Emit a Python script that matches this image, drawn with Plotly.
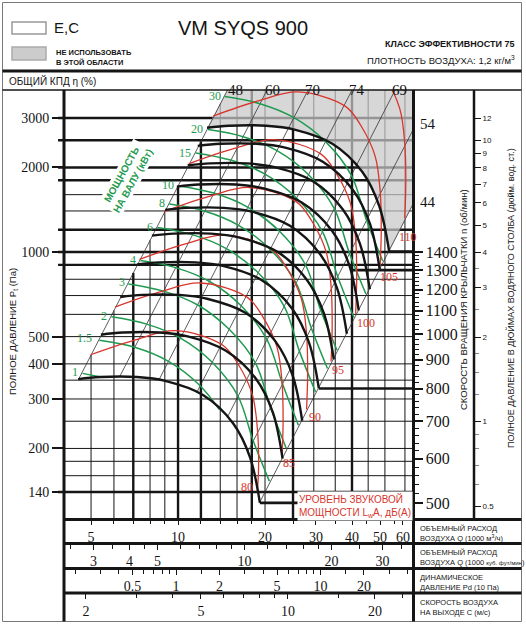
import math
import plotly.graph_objects as go

W, H = 526, 624

# fan curves (black), one per impeller speed, Q in 1000 m3/h, Pt in Pa
rpm = [500, 600, 700, 800, 900, 1000, 1100, 1200, 1300, 1400]
black_q = [
    [4.51, 5.37, 7.21, 9.02, 12.2, 15.5, 17.75, 19.2],
    [5.41, 6.44, 8.65, 10.8, 14.6, 18.6, 21.3, 23.0],
    [6.31, 7.52, 10.1, 12.6, 17.1, 21.7, 24.9, 26.9],
    [7.22, 8.59, 11.5, 14.4, 19.5, 24.8, 28.4, 30.7],
    [8.12, 9.67, 13.0, 16.2, 22.0, 27.9, 32.0, 34.6],
    [9.02, 10.7, 14.4, 18.0, 24.4, 31.0, 35.5, 38.4],
    [9.92, 11.8, 15.9, 19.8, 26.8, 34.1, 39.1, 42.2],
    [10.8, 12.9, 17.3, 21.6, 29.3, 37.2, 42.6, 46.1],
    [11.7, 14.0, 18.7, 23.5, 31.7, 40.3, 46.2, 49.9],
    [12.6, 15.0, 20.2, 25.3, 34.2, 43.4, 49.7, 53.8],
]
black_p = [
    [353, 359, 359, 348, 310, 246, 186, 128],
    [508, 517, 517, 501, 446, 354, 268, 184],
    [692, 704, 704, 682, 608, 482, 365, 251],
    [904, 919, 919, 891, 794, 630, 476, 328],
    [1144, 1163, 1163, 1128, 1004, 797, 603, 415],
    [1412, 1436, 1436, 1392, 1240, 984, 744, 512],
    [1709, 1738, 1738, 1684, 1500, 1191, 900, 620],
    [2033, 2068, 2068, 2004, 1786, 1417, 1071, 737],
    [2386, 2427, 2427, 2352, 2096, 1663, 1257, 865],
    [2768, 2815, 2815, 2728, 2430, 1929, 1458, 1004],
]

# shaft power lines (green), kW
kw = ["1", "1.5", "2", "3", "4", "6", "8", "10", "15", "20", "30"]
green_q = [
    [4.67, 5.4],
    [5.34, 7.08, 9.27, 11.9, 13.9],
    [5.88, 7.79, 10.2, 13.1, 16.1, 18.2, 20.7],
    [6.73, 8.91, 11.7, 15.0, 18.5, 20.9, 23.7],
    [7.41, 9.81, 12.9, 16.5, 20.3, 23.0, 26.1],
    [8.48, 11.2, 14.7, 18.9, 23.3, 26.3, 29.9],
    [9.33, 12.4, 16.2, 20.8, 25.6, 28.9, 32.9],
    [10.1, 13.3, 17.4, 22.4, 27.6, 31.1, 35.5],
    [11.5, 15.2, 20.0, 25.7, 31.6, 35.7, 40.6],
    [12.7, 16.8, 22.0, 28.3, 34.7, 39.2, 44.7],
    [14.5, 19.2, 25.2, 32.4, 39.8, 44.9, 51.1],
]
green_p = [
    [370, 359],
    [485, 458, 408, 335, 275],
    [588, 554, 494, 406, 308, 213, 153],
    [770, 726, 648, 532, 404, 280, 200],
    [933, 880, 784, 645, 489, 339, 242],
    [1223, 1153, 1028, 845, 641, 444, 318],
    [1481, 1397, 1245, 1024, 777, 538, 385],
    [1719, 1621, 1445, 1188, 901, 624, 447],
    [2252, 2124, 1893, 1556, 1181, 817, 585],
    [2728, 2573, 2294, 1885, 1431, 990, 709],
    [3575, 3371, 3006, 2471, 1875, 1298, 929],
]

# sound power level lines (red), dB(A)
sound_db = ["80", "85", "90", "95", "100", "105", "110"]
red_q = [
    [4.98, 7.12, 9.80, 14.25, 16.19, 18.09, 18.83, 19.0, 18.8],
    [6.05, 8.66, 11.92, 17.33, 19.68, 22.0, 22.9, 23.1, 22.9],
    [7.36, 10.53, 14.49, 21.07, 23.93, 26.75, 27.85, 28.09, 27.85],
    [8.95, 12.81, 17.63, 25.63, 29.10, 32.53, 33.86, 34.16, 33.86],
    [10.88, 15.57, 21.43, 31.16, 35.38, 39.56, 41.17, 41.53, 41.17],
    [13.23, 18.93, 26.06, 37.88, 43.02, 48.09, 50.06, 50.50, 50.06],
    [16.09, 23.03, 31.70, 46.08, 52.33, 58.50, 60.89, 61.42, 60.89],
]
red_p = [
    [431, 487, 525, 467, 397, 310, 233, 170, 140],
    [637, 721, 776, 691, 587, 459, 345, 252, 186],
    [942, 1066, 1148, 1022, 868, 679, 510, 373, 275],
    [1393, 1577, 1697, 1511, 1284, 1004, 755, 551, 408],
    [2060, 2332, 2510, 2235, 1898, 1484, 1116, 815, 603],
    [3047, 3449, 3712, 3305, 2808, 2195, 1650, 1205, 892],
    [4504, 5097, 5486, 4885, 4150, 3245, 2439, 1782, 1319],
]
sound_lbl_q = [17.3, 24.3, 29.8, 35.9, 44.8, 53.8, 62.6]
sound_lbl_p = [146, 177, 259, 380, 557, 817, 1134]

# total efficiency lines (thin diagonals), %
eff = ["48", "60", "70", "74", "69", "54", "44"]
eff_q = [[4.53, 16.2], [6.27, 22.2], [8.59, 30.8], [11.6, 43.7], [14.8, 61.6], [17.4, 70], [19.2, 70]]
eff_p = [[353, 4500], [359, 4500], [351, 4500], [316, 4500], [258, 4500], [194, 3151], [129, 1715]]
eff_top_q = [15.75, 21.15, 29.3, 41.6, 58.6]
eff_side_p = [2854, 1506]

kw_lbl_q = [4.40, 4.73, 5.55, 6.39, 7.01, 8.0, 8.78, 9.26, 10.57, 11.61, 13.43]
kw_lbl_p = [375, 494, 592, 784, 937, 1230, 1491, 1727, 2257, 2732, 3597]

# "do not use" zone outline (closed against the 1400 rpm curve)
gray_q = [12.6, 16.2, 70, 70, 53.8]
gray_p = [2768, 4500, 4500, 1715, 1004]

# grid and scales
grid_p = [3000, 2500, 2000, 1800, 1600, 1400, 1200, 1000, 900, 800, 700, 600,
          500, 400, 350, 300, 250, 200, 180, 160, 140]
grid_p_bold = [3000, 2500, 2000, 1800, 1200, 1000, 900, 140]
grid_q = [5, 6, 7, 8, 9, 10, 12, 14, 16, 18, 20, 25, 29.5, 35, 40, 45.5, 52, 61]
grid_q_bold = [7, 10, 12, 18, 25, 40]
speed_line_q = [19.2, 30.7, 40, 53.8]
speed_line_p = [128, 327, 862, 1004]

p_ticks = [140, 200, 300, 400, 500, 1000, 2000, 3000]
rpm_ticks = [500, 600, 700, 800, 900, 1000, 1100, 1200, 1300, 1400]
rpm_minor = [v for v in range(500, 1401, 20) if v % 100]
inch_ticks = [0.5, 1, 2, 3, 4, 5, 6, 7, 8, 9, 10, 12]
inch_minor = [0.6, 0.7, 0.8, 0.9, 1.25, 1.5, 1.75, 2.5, 3.5]
q_ticks = [5, 10, 20, 30, 40, 50, 60]
q_minor = [6, 7, 8, 9, 12, 14, 16, 18, 25, 35, 45, 56]
cfm_ticks = [3, 4, 5, 10, 20, 30]
cfm_minor = [2.5, 3.5, 4.5, 6, 7, 8, 9, 12, 14, 16, 18, 25, 35]
pd_ticks = [0.5, 1, 2, 5, 10, 20]
pd_minor = [0.2, 0.3, 0.4, 0.6, 0.7, 0.8, 0.9, 1.5, 3, 4, 6, 7, 8, 9, 15, 30, 40]
c_ticks = [2, 5, 10, 20]
c_minor = [3, 4, 6, 7, 8, 9, 15, 25]

SERIF = "Liberation Serif, Times New Roman, serif"
SANS = "Liberation Sans, Arial, sans-serif"
GREEN = "#1f9a50"
RED = "#d8352c"
INK = "#151515"

Q_MIN, Q_MAX = 4.03, 65.3
P_MIN, P_MAX = 112.2, 3772
K_LEFT = 17.2


def px(x, y):
    return x / W, 1 - y / H


def lg(v):
    return math.log10(v)


fig = go.Figure()

# grey zone: outline, then top fan curve filled against it
fig.add_trace(go.Scatter(x=gray_q, y=gray_p, mode="lines", line=dict(width=0), hoverinfo="skip"))
fig.add_trace(go.Scatter(x=black_q[-1], y=black_p[-1], mode="lines",
                         line=dict(width=0, shape="spline"), fill="tonexty",
                         fillcolor="rgba(200,200,200,0.72)", hoverinfo="skip"))

for q, p in zip(eff_q, eff_p):
    fig.add_trace(go.Scatter(x=q, y=p, mode="lines", line=dict(color="#333", width=0.8)))
for q, p in zip(green_q, green_p):
    fig.add_trace(go.Scatter(x=q, y=p, mode="lines", line=dict(color=GREEN, width=1.5, shape="spline")))
for q, p in zip(red_q, red_p):
    fig.add_trace(go.Scatter(x=q, y=p, mode="lines", line=dict(color=RED, width=1.3, shape="spline")))
for q, p in zip(black_q, black_p):
    fig.add_trace(go.Scatter(x=q, y=p, mode="lines", line=dict(color=INK, width=2.4, shape="spline")))

# dummy traces so the extra scales get drawn
for xa, ya in [("x2", "y"), ("x3", "y"), ("x4", "y"), ("x", "y2"), ("x", "y3")]:
    fig.add_trace(go.Scatter(x=[None], y=[None], xaxis=xa, yaxis=ya, hoverinfo="skip"))

shapes = []
for p in grid_p:
    bold = p in grid_p_bold
    shapes.append(dict(type="line", xref="x domain", yref="y", x0=-0.017 if bold else 0, x1=1,
                       y0=p, y1=p, line=dict(color=INK, width=2.4 if bold else 1), layer="below"))
for q in grid_q:
    shapes.append(dict(type="line", xref="x", yref="y", x0=q, x1=q, y0=P_MIN,
                       y1=min(K_LEFT * q * q, P_MAX),
                       line=dict(color=INK, width=2.4 if q in grid_q_bold else 1), layer="below"))
for q, p in zip(speed_line_q, speed_line_p):
    shapes.append(dict(type="line", xref="x", yref="y", x0=q, x1=Q_MAX, y0=p, y1=p,
                       line=dict(color=INK, width=2.6), layer="below"))


def pline(x0, y0, x1, y1, w, color=INK):
    a, b = px(x0, y0)
    c, d = px(x1, y1)
    shapes.append(dict(type="line", xref="paper", yref="paper", x0=a, y0=b, x1=c, y1=d,
                       line=dict(color=color, width=w)))


def prect(x0, y0, x1, y1, fill, color, w):
    a, b = px(x0, y0)
    c, d = px(x1, y1)
    shapes.append(dict(type="rect", xref="paper", yref="paper", x0=a, y0=b, x1=c, y1=d,
                       fillcolor=fill, line=dict(color=color, width=w)))


prect(2.5, 2.5, 521.5, 621.5, "rgba(0,0,0,0)", "#777", 1)
prect(12, 22, 46, 34, "white", "#999", 1.5)
prect(12, 47, 46, 60, "#cccccc", "#aaa", 1.5)
pline(2.5, 71, 521.5, 71, 3)
pline(2.5, 90, 521.5, 90, 1.5)
pline(64, 90, 64, 621.5, 3)
pline(413.5, 90, 413.5, 621.5, 3)
pline(474, 90, 474, 519.5, 2.5)
for yy in [519.5, 543.5, 568.5, 593]:
    pline(64, yy, 521.5, yy, 3)

ann = []


def ptext(x, y, text, size, xanchor="left", family=SANS, angle=0, color=INK):
    a, b = px(x, y)
    ann.append(dict(xref="paper", yref="paper", x=a, y=b, text=text, showarrow=False,
                    xanchor=xanchor, yanchor="middle", align="left", textangle=angle,
                    font=dict(family=family, size=size, color=color)))


ptext(52, 28, "E,C", 15)
ptext(54, 57, "<b>НЕ ИСПОЛЬЗОВАТЬ<br>В ЭТОЙ ОБЛАСТИ</b>", 7.5)
ptext(243, 28, "VM SYQS 900", 20, "center")
ptext(517, 44, "<b>КЛАСС ЭФФЕКТИВНОСТИ 75</b>", 9, "right")
ptext(517, 60, "ПЛОТНОСТЬ ВОЗДУХА: 1,2 кг/м<sup>3</sup>", 9.5, "right")
ptext(7, 81, "ОБЩИЙ КПД η (%)", 10)
ptext(13, 332, "ПОЛНОЕ ДАВЛЕНИЕ P<sub>t</sub> (Па)", 9.5, "center", angle=-90)
ptext(463, 300, "СКОРОСТЬ ВРАЩЕНИЯ КРЫЛЬЧАТКИ n (об/мин)", 9.5, "center", angle=-90)
ptext(510, 298, "ПОЛНОЕ ДАВЛЕНИЕ В ДЮЙМАХ ВОДЯНОГО СТОЛБА (дюйм. вод. ст.)", 9, "center", angle=-90)
ptext(418, 533, "ОБЪЕМНЫЙ РАСХОД<br>ВОЗДУХА Q (1000 м<sup>3</sup>/ч)", 7.5)
ptext(418, 557, "ОБЪЕМНЫЙ РАСХОД<br>ВОЗДУХА Q (1000 <span style='font-size:6px'>куб. фут/мин</span>)", 7.5)
ptext(418, 582, "ДИНАМИЧЕСКОЕ<br>ДАВЛЕНИЕ Pd (10 Па)", 7.5)
ptext(418, 607, "СКОРОСТЬ ВОЗДУХА<br>НА ВЫХОДЕ C (м/с)", 7.5)

for q, t in zip(eff_top_q, eff):
    ann.append(dict(xref="x", yref="paper", x=lg(q), y=1 - 80 / H, text=t, showarrow=False,
                    font=dict(family=SERIF, size=15, color=INK)))
for p, t in zip(eff_side_p, eff[5:]):
    ann.append(dict(xref="paper", yref="y", x=418 / W, y=lg(p), text=t, showarrow=False,
                    xanchor="left", font=dict(family=SERIF, size=15, color=INK)))
for q, p, t in zip(kw_lbl_q, kw_lbl_p, kw):
    ann.append(dict(xref="x", yref="y", x=lg(q), y=lg(p), text=t, showarrow=False,
                    font=dict(family=SERIF, size=12, color=GREEN)))
for q, p, t in zip(sound_lbl_q, sound_lbl_p, sound_db):
    ann.append(dict(xref="x", yref="y", x=lg(q), y=lg(p), text=t, showarrow=False,
                    font=dict(family=SERIF, size=12, color=RED)))

ann.append(dict(xref="x", yref="y", x=lg(6.66), y=lg(1834), text="<b>МОЩНОСТЬ<br>НА ВАЛУ (кВт)</b>",
                showarrow=False, textangle=-61, bgcolor="white",
                font=dict(family=SANS, size=10, color=GREEN)))
ann.append(dict(xref="x", yref="y", x=lg(25.8), y=lg(125), xanchor="left", align="left",
                text="УРОВЕНЬ ЗВУКОВОЙ<br>МОЩНОСТИ L<sub>w</sub>A, дБ(А)", showarrow=False,
                bgcolor="white", font=dict(family=SANS, size=10, color=RED)))

xdom = [64 / W, 413.5 / W]
tickfont = dict(family=SERIF, size=14, color=INK)
minor_ticks = dict(ticks="outside", ticklen=4, tickwidth=1, tickcolor=INK)


def row_axis(rng, pos, vals, labels=None, minor=None):
    ax = dict(type="log", range=rng, overlaying="x", anchor="free", position=pos, side="bottom",
              showgrid=False, zeroline=False, showline=False, ticks="outside", ticklen=5,
              tickwidth=1.2, tickcolor=INK, tickvals=vals, tickfont=tickfont)
    if labels:
        ax["ticktext"] = labels
    if minor:
        ax["minor"] = dict(tickvals=minor, **minor_ticks)
    return ax


fig.update_layout(
    width=W, height=H, margin=dict(l=0, r=0, t=0, b=0),
    paper_bgcolor="white", plot_bgcolor="white", showlegend=False, hovermode=False,
    xaxis=dict(type="log", range=[lg(Q_MIN), lg(Q_MAX)], domain=xdom, anchor="y",
               showgrid=False, zeroline=False, showline=False, ticks="outside", ticklen=5,
               tickwidth=1.2, tickcolor=INK, tickvals=q_ticks, tickfont=tickfont,
               minor=dict(tickvals=q_minor, **minor_ticks)),
    xaxis2=row_axis([lg(Q_MIN / 1.699), lg(Q_MAX / 1.699)], 1 - 543.5 / H, cfm_ticks, minor=cfm_minor),
    xaxis3=row_axis([2 * lg(Q_MIN / 9.84), 2 * lg(Q_MAX / 9.84)], 1 - 568.5 / H, pd_ticks,
                    ["0.5", "1", "2", "5", "10", "20"], pd_minor),
    xaxis4=row_axis([lg(Q_MIN / 2.4), lg(Q_MAX / 2.4)], 1 - 593 / H, c_ticks, minor=c_minor),
    yaxis=dict(type="log", range=[lg(P_MIN), lg(P_MAX)], domain=[1 - 519 / H, 1 - 90 / H], anchor="x",
               showgrid=False, zeroline=False, showline=False, ticks="outside", ticklen=11,
               tickwidth=1.5, tickcolor=INK, tickvals=p_ticks,
               tickfont=dict(family=SERIF, size=14, color=INK)),
    yaxis2=dict(type="log", overlaying="y", anchor="free", position=413.5 / W, side="right",
                range=[lg(1400) + 0.5 * (lg(P_MIN) - 3), lg(1400) + 0.5 * (lg(P_MAX) - 3)],
                showgrid=False, zeroline=False, showline=False, ticks="outside", ticklen=8,
                tickwidth=1.5, tickcolor=INK, tickvals=rpm_ticks,
                tickfont=dict(family=SERIF, size=16, color=INK),
                minor=dict(tickvals=rpm_minor, **minor_ticks)),
    yaxis3=dict(type="log", overlaying="y", anchor="free", position=474 / W, side="right",
                range=[lg(P_MIN / 249.09), lg(P_MAX / 249.09)],
                showgrid=False, zeroline=False, showline=False, ticks="outside", ticklen=6,
                tickwidth=1, tickcolor=INK, tickvals=inch_ticks,
                ticktext=[str(v) for v in inch_ticks],
                tickfont=dict(family=SANS, size=8, color=INK),
                minor=dict(tickvals=inch_minor, ticks="outside", ticklen=4, tickwidth=1, tickcolor="#888")),
    shapes=shapes,
    annotations=ann,
)

# page has a default body margin; drop it so the 526x624 figure fills the window
fig.write_html("out.html", config={"displayModeBar": False},
               post_script="document.body.style.margin='0';")
